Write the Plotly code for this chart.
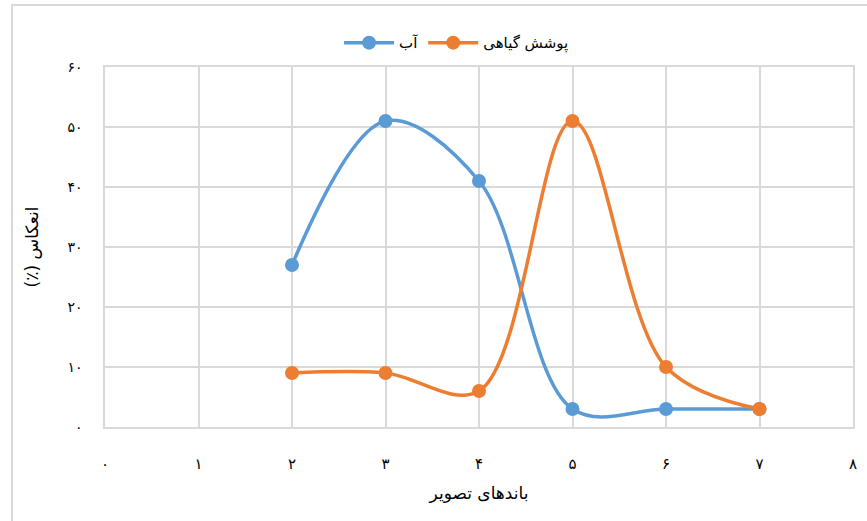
import plotly.graph_objects as go

bands = [2, 3, 4, 5, 6, 7]
water = [27, 51, 41, 3, 3, 3]
vegetation = [9, 9, 6, 51, 10, 3]
water_name = "آب"
veg_name = "پوشش گیاهی"
x_ticks = [0, 1, 2, 3, 4, 5, 6, 7, 8]
x_tick_labels = ["۰", "۱", "۲", "۳", "۴", "۵", "۶", "۷", "۸"]
y_ticks = [0, 10, 20, 30, 40, 50, 60]
y_tick_labels = ["۰", "۱۰", "۲۰", "۳۰", "۴۰", "۵۰", "۶۰"]
x_title = "باندهای تصویر"
y_title = "\u200Fانعکاس (٪)\u200F"

FONT = "DejaVu Sans"

fig = go.Figure()
fig.add_trace(go.Scatter(x=bands, y=water, name=water_name, mode="lines+markers",
                         line=dict(color="#5B9BD5", width=3.5, shape="spline", smoothing=1),
                         marker=dict(size=14, color="#5B9BD5")))
fig.add_trace(go.Scatter(x=bands, y=vegetation, name=veg_name, mode="lines+markers",
                         line=dict(color="#ED7D31", width=3.5, shape="spline", smoothing=1),
                         marker=dict(size=14, color="#ED7D31")))

fig.update_layout(
    width=867, height=521,
    margin=dict(l=105, r=14, t=67, b=94),
    paper_bgcolor="white", plot_bgcolor="white",
    font=dict(family=FONT, size=14, color="#000000"),
    showlegend=True,
    legend=dict(orientation="h", x=0.47, xanchor="center", y=1.067, yanchor="middle",
                font=dict(size=15), itemwidth=50),
    xaxis=dict(range=[0, 8], tickvals=x_ticks, ticktext=x_tick_labels,
               showgrid=True, gridcolor="#D9D9D9", gridwidth=1.5, automargin=False,
               zeroline=False, showline=True, linecolor="#D9D9D9", linewidth=1.5, mirror=True,
               ticks="", ticklabelstandoff=22, tickfont=dict(size=15),
               title=dict(text=x_title, font=dict(size=17), standoff=15)),
    yaxis=dict(range=[0, 60], tickvals=y_ticks, ticktext=y_tick_labels,
               showgrid=True, gridcolor="#D9D9D9", gridwidth=1.5, automargin=False,
               zeroline=False, showline=True, linecolor="#D9D9D9", linewidth=1.5, mirror=True,
               ticks="", ticklabelstandoff=18, tickfont=dict(size=14),
               title=dict(text=y_title, font=dict(size=17), standoff=24)),
    shapes=[dict(type="rect", xref="paper", yref="paper",
                 x0=-0.1243, x1=1.1, y0=-0.4, y1=1.172,
                 line=dict(color="#D9D9D9", width=2), fillcolor="rgba(0,0,0,0)", layer="below")],
)

fig.write_html("out.html", config={"displayModeBar": False},
               post_script="document.body.style.margin='0';document.body.style.padding='0';")
